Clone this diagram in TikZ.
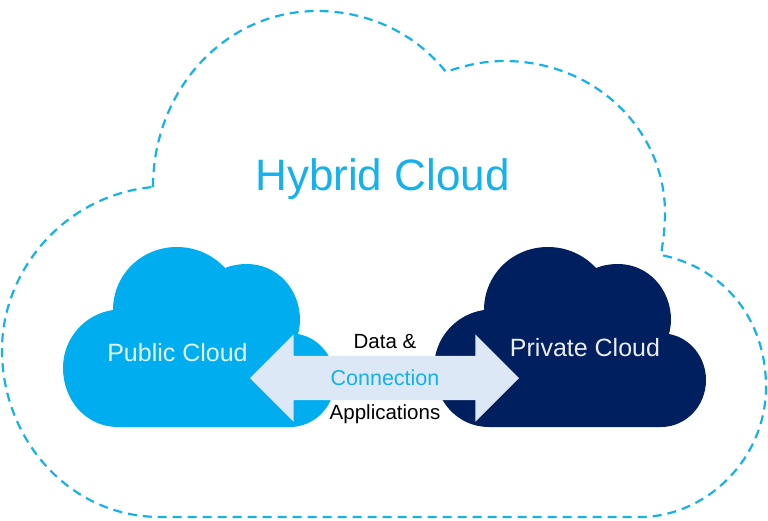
\documentclass[tikz,border=0pt]{standalone}
\usepackage{fontspec}
\setmainfont{Liberation Sans}
\usetikzlibrary{shapes.arrows}

\definecolor{skyblue}{HTML}{00AEEF}
\definecolor{navyblue}{HTML}{001F5F}
\definecolor{linkblue}{HTML}{DCE8F5}
\definecolor{dashblue}{HTML}{14B1EC}

% outline shared by the two small clouds
\newcommand{\smallcloud}{
  (113, 310) .. controls (113, 275) and (141, 247) .. (177, 247)
  .. controls (196, 247) and (213, 255) .. (225, 268)
  .. controls (232, 265) and (240, 264) .. (247, 264)
  .. controls (277, 264) and (300, 289) .. (300, 320)
  .. controls (300, 325) and (299, 330) .. (298, 334)
  .. controls (320, 338) and (335, 358) .. (335, 380)
  .. controls (335, 406) and (315, 427) .. (290, 427)
  -- (118, 427)
  .. controls (86, 427) and (63, 400) .. (63, 368)
  .. controls (63, 338) and (85, 314) .. (113, 310) -- cycle
}

\begin{document}
\begin{tikzpicture}[
    x = 1pt,
    y = -1pt,
    ]
    \useasboundingbox (0, 0) rectangle (768, 520);
    % outer cloud
    \draw[dashblue, line width=2.2pt, dash pattern=on 9pt off 6pt]
    (153, 187) .. controls (153, 90) and (225, 11) .. (317, 11)
    .. controls (368, 11) and (415, 33) .. (446, 72)
    .. controls (465, 65) and (485, 61) .. (504, 61)
    .. controls (595, 61) and (665, 130) .. (665, 213)
    .. controls (665, 228) and (663, 242) .. (661, 255)
    .. controls (725, 268) and (766, 320) .. (766, 387)
    .. controls (766, 460) and (705, 517) .. (640, 517)
    -- (160, 517)
    .. controls (70, 517) and (2, 440) .. (2, 350)
    .. controls (2, 270) and (65, 195) .. (153, 187);
    % small clouds
    \fill[skyblue] \smallcloud;
    \begin{scope}[shift={(371, 0)}]
      \fill[navyblue] \smallcloud;
    \end{scope}
    % link between the clouds
    \node[double arrow, double arrow head extend=21.5pt, minimum height=269pt,
      text height=44pt, text depth=0pt, inner sep=0pt, fill=linkblue] (link) at (384.5, 378) {};
    % labels
    \node[anchor=base, text=dashblue, font=\fontsize{44}{44}\selectfont] (hybrid) at (382.5, 190) {Hybrid Cloud};
    \node[anchor=base, text=white!88!skyblue, font=\fontsize{25}{25}\selectfont] (public) at (177.5, 361) {Public Cloud};
    \node[anchor=base, text=white!92!navyblue, font=\fontsize{25}{25}\selectfont] (private) at (585, 356) {Private Cloud};
    \node[anchor=base, font=\fontsize{20.5}{20.5}\selectfont] (data) at (385, 348) {Data \&};
    \node[anchor=base, text=dashblue, font=\fontsize{21.5}{21.5}\selectfont] (connection) at (385, 385) {Connection};
    \node[anchor=base, font=\fontsize{20.5}{20.5}\selectfont] (apps) at (385, 419) {Applications};
\end{tikzpicture}
\end{document}
